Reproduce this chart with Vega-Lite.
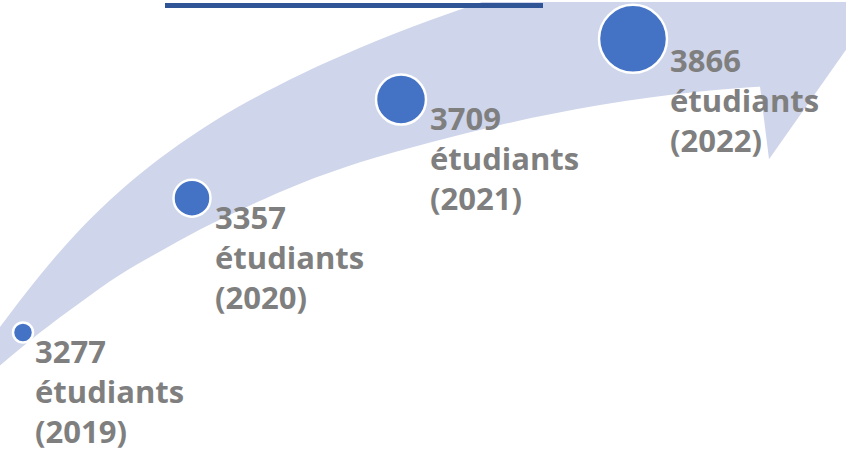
{
  "$schema": "https://vega.github.io/schema/vega-lite/v6.json",
  "width": 846,
  "height": 451,
  "autosize": {"type": "fit", "contains": "padding"},
  "padding": 0,
  "background": "white",
  "config": {"view": {"stroke": null}},
  "datasets": {
    "shaft": [
      {"x": 0, "top": 124.6, "bottom": 86},
      {"x": 40, "top": 176.6, "bottom": 119},
      {"x": 80, "top": 222.6, "bottom": 149},
      {"x": 120, "top": 261.2, "bottom": 177},
      {"x": 160, "top": 294, "bottom": 200.5},
      {"x": 200, "top": 322.2, "bottom": 222.4},
      {"x": 250, "top": 352.2, "bottom": 246.7},
      {"x": 300, "top": 378, "bottom": 268.5},
      {"x": 360, "top": 405, "bottom": 290},
      {"x": 430, "top": 432.6, "bottom": 310},
      {"x": 500, "top": 457, "bottom": 327.5},
      {"x": 600, "top": 487.5, "bottom": 347.5},
      {"x": 700, "top": 513.5, "bottom": 361},
      {"x": 762, "top": 527.5, "bottom": 366}
    ],
    "head": [
      {"x": 760, "top": 560, "bottom": 366},
      {"x": 769, "top": 560, "bottom": 293},
      {"x": 846, "top": 560, "bottom": 403}
    ],
    "titleLine": [
      {"x": 165, "x2": 543, "y": 447.5}
    ],
    "students": [
      {"year": 2019, "value": 3277, "x": 23, "y": 119, "lx": 35, "ly": 88, "label": "3277\nétudiants\n(2019)"},
      {"year": 2020, "value": 3357, "x": 192, "y": 254, "lx": 215, "ly": 223, "label": "3357\nétudiants\n(2020)"},
      {"year": 2021, "value": 3709, "x": 401, "y": 353, "lx": 430, "ly": 322, "label": "3709\nétudiants\n(2021)"},
      {"year": 2022, "value": 3866, "x": 633, "y": 414, "lx": 670, "ly": 381, "label": "3866\nétudiants\n(2022)"}
    ]
  },
  "layer": [
    {
      "data": {"name": "shaft"},
      "mark": {"type": "area", "color": "#CFD5EA", "interpolate": "monotone", "clip": true},
      "encoding": {
        "x": {"field": "x", "type": "quantitative", "scale": {"domain": [0, 846], "nice": false, "zero": false}, "axis": null},
        "y": {"field": "bottom", "type": "quantitative", "scale": {"domain": [0, 451], "nice": false, "zero": false}, "axis": null},
        "y2": {"field": "top"}
      }
    },
    {
      "data": {"name": "head"},
      "mark": {"type": "area", "color": "#CFD5EA", "interpolate": "linear", "clip": true},
      "encoding": {
        "x": {"field": "x", "type": "quantitative"},
        "y": {"field": "bottom", "type": "quantitative"},
        "y2": {"field": "top"}
      }
    },
    {
      "data": {"name": "titleLine"},
      "mark": {"type": "rule", "color": "#2F5597", "strokeWidth": 5},
      "encoding": {
        "x": {"field": "x", "type": "quantitative"},
        "x2": {"field": "x2"},
        "y": {"field": "y", "type": "quantitative"}
      }
    },
    {
      "data": {"name": "students"},
      "mark": {"type": "point", "shape": "circle", "filled": true, "color": "#4472C4", "opacity": 1, "stroke": "white", "strokeWidth": 2.5},
      "encoding": {
        "x": {"field": "x", "type": "quantitative"},
        "y": {"field": "y", "type": "quantitative"},
        "size": {"field": "value", "type": "quantitative", "scale": {"type": "linear", "zero": false, "nice": false, "domain": [3277, 3357, 3709, 3866], "range": [400, 1369, 2500, 4624]}, "legend": null}
      }
    },
    {
      "data": {"name": "students"},
      "mark": {"type": "text", "align": "left", "baseline": "alphabetic", "font": "Open Sans", "fontWeight": "bold", "fontSize": 31, "lineHeight": 40, "lineBreak": "\n", "color": "#7F7F7F"},
      "encoding": {
        "x": {"field": "lx", "type": "quantitative"},
        "y": {"field": "ly", "type": "quantitative"},
        "text": {"field": "label"}
      }
    }
  ]
}
